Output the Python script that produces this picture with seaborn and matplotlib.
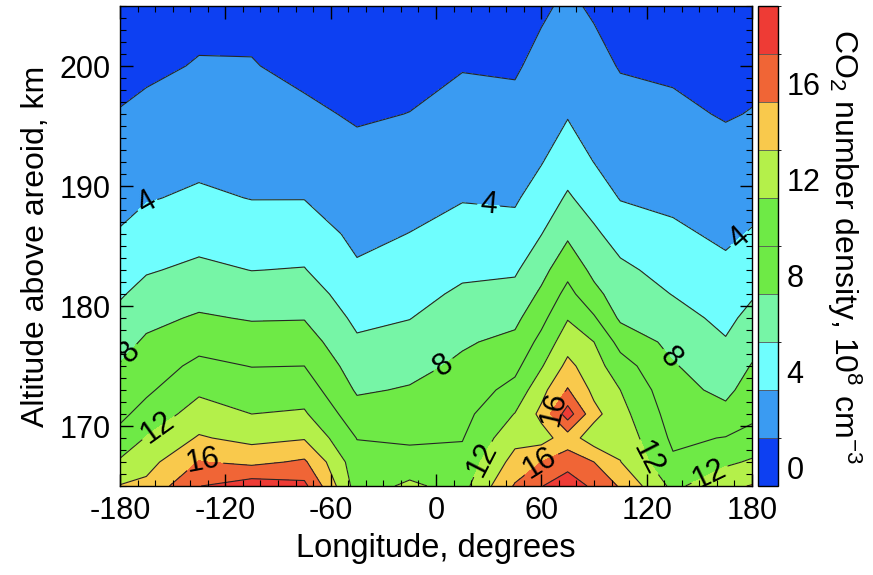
import numpy as np
import matplotlib
matplotlib.use("Agg")
import matplotlib.pyplot as plt
import seaborn as sns
from matplotlib.colors import ListedColormap, BoundaryNorm
from matplotlib.ticker import MultipleLocator

# Grid: longitude (deg) and altitude above the areoid (km)
longitudes = [-180, -165, -135, -105, -75, -45, -15, 15, 45, 60, 75, 90, 105, 135, 165, 180]
altitudes = [165, 167, 169, 171, 173, 175, 177, 179, 181, 183, 186, 189, 192, 196, 200, 205]

# CO2 number density (1e8 cm^-3), one altitude profile per longitude (bottom to top)
lon_m180 = [14.1, 12.25, 10.64, 9.56, 8.84, 8.11, 7.33, 6.55, 5.8, 5.13, 4.13, 3.47, 2.87, 2.06, 1.63, 1.12]
lon_m165 = [14.47, 13.29, 12.12, 10.71, 9.66, 8.97, 8.28, 7.49, 6.64, 5.83, 4.81, 3.87, 3.21, 2.33, 1.73, 1.18]
lon_m135 = [17.95, 16.1, 14.19, 12.88, 11.65, 10.47, 9.33, 8.22, 7.29, 6.4, 5.3, 4.3, 3.6, 2.85, 2.09, 1.58]
lon_m105 = [19.1, 15.5, 13.43, 12.0, 10.97, 9.95, 8.89, 7.86, 6.9, 5.97, 4.93, 3.95, 3.44, 2.75, 2.07, 1.61]
lon_m75 = [18.5, 16.3, 13.84, 12.24, 11.08, 10.0, 8.95, 7.91, 7.0, 6.09, 5.0, 3.95, 3.23, 2.27, 1.65, 1.05]
lon_m45 = [11.1, 10.78, 9.94, 8.8, 7.77, 7.02, 6.26, 5.57, 4.9, 4.23, 3.57, 3.0, 2.43, 1.84, 1.46, 0.99]
lon_m15 = [12.35, 10.95, 9.6, 8.94, 8.16, 7.41, 6.67, 5.95, 5.4, 4.85, 4.03, 3.41, 2.81, 2.02, 1.6, 1.09]
lon_p15 = [11.3, 10.58, 9.9, 9.38, 8.87, 8.36, 7.78, 7.04, 6.3, 5.64, 4.73, 3.89, 3.32, 2.57, 1.91, 1.43]
lon_p45 = [16.2, 14.73, 13.4, 12.07, 10.64, 9.46, 8.49, 7.53, 6.6, 5.75, 4.65, 3.77, 3.19, 2.42, 1.83, 1.35]
lon_p60 = [17.9, 16.0, 13.2, 14.5, 13.36, 11.82, 10.58, 9.43, 8.35, 7.36, 5.96, 4.89, 3.91, 3.17, 2.43, 1.76]
lon_p75 = [19.4, 17.03, 15.0, 19.0, 16.15, 14.54, 13.16, 11.88, 10.63, 9.39, 7.67, 6.24, 5.12, 3.86, 3.15, 2.27]
lon_p90 = [17.5, 16.0, 12.9, 14.6, 13.5, 12.82, 12.0, 10.22, 8.54, 7.49, 6.34, 5.15, 3.97, 3.24, 2.5, 1.79]
lon_p105 = [15.8, 14.05, 13.36, 12.68, 12.0, 10.86, 9.33, 7.68, 7.05, 6.41, 5.19, 3.9, 3.33, 2.57, 1.9, 1.43]
lon_p135 = [11.5, 10.3, 9.63, 9.14, 8.64, 8.15, 7.46, 6.69, 5.94, 5.29, 4.32, 3.62, 3.05, 2.29, 1.76, 1.29]
lon_p165 = [13.6, 11.62, 10.08, 8.54, 7.54, 6.84, 6.14, 5.54, 4.96, 4.38, 3.68, 3.1, 2.53, 1.89, 1.5, 1.03]
lon_p180 = [14.1, 12.25, 10.64, 9.56, 8.84, 8.11, 7.33, 6.55, 5.8, 5.13, 4.13, 3.47, 2.87, 2.06, 1.63, 1.12]

profiles = [lon_m180, lon_m165, lon_m135, lon_m105, lon_m75, lon_m45, lon_m15, lon_p15,
            lon_p45, lon_p60, lon_p75, lon_p90, lon_p105, lon_p135, lon_p165, lon_p180]

# Contour levels and their fill colours
levels = [0, 2, 4, 6, 8, 10, 12, 14, 16, 18, 20]
level_colors = ["#0d40f2", "#3a9bf2", "#6ffefe", "#76f5a6", "#6eea46",
                "#6eea46", "#b4f04a", "#f9c94c", "#f06536", "#ee3b35"]
labelled_levels = [4, 8, 12, 16]
plain_levels = [2, 6, 10, 14, 18]
colorbar_ticks = [0, 4, 8, 12, 16]

# Where the contour labels sit (lon, alt)
label_spots = [(-167, 189.3), (30, 188.4), (171, 185.9),
               (-171, 175.6), (5, 174.9), (133, 175.6),
               (-157, 169.6), (22, 167.6), (125, 167.6), (153, 166.8),
               (-132, 167.6), (62, 172.0), (59, 167.0)]

sns.set_style("ticks")
plt.rcParams["font.family"] = ["Liberation Sans", "DejaVu Sans"]
plt.rcParams["mathtext.default"] = "regular"
plt.rcParams["axes.unicode_minus"] = False
plt.rcParams["text.color"] = "black"
plt.rcParams["axes.labelcolor"] = "black"
plt.rcParams["xtick.color"] = "black"
plt.rcParams["ytick.color"] = "black"

lon = np.array(longitudes, dtype=float)
alt = np.array(altitudes, dtype=float)
density = np.column_stack([np.array(p, dtype=float) for p in profiles])

cmap = ListedColormap(level_colors)
norm = BoundaryNorm(levels, cmap.N)

fig = plt.figure(figsize=(8.73, 5.75), dpi=100)
ax = fig.add_axes([120 / 873, 1 - 486 / 575, 632 / 873, 480 / 575])
cax = fig.add_axes([758 / 873, 1 - 486 / 575, 20 / 873, 480 / 575])

filled = ax.contourf(lon, alt, density, levels=levels, cmap=cmap, norm=norm)
line_style = dict(colors="#262626", linewidths=0.8)
ax.contour(lon, alt, density, levels=plain_levels, **line_style)
labelled = ax.contour(lon, alt, density, levels=labelled_levels, **line_style)
ax.clabel(labelled, manual=label_spots, inline=True,
          fontsize=22, fmt="%d", colors="black", inline_spacing=3)

ax.set_axisbelow(False)
ax.set_xlim(-180, 180)
ax.set_ylim(165, 205)
ax.xaxis.set_major_locator(MultipleLocator(60))
ax.xaxis.set_minor_locator(MultipleLocator(10))
ax.yaxis.set_major_locator(MultipleLocator(10))
ax.yaxis.set_minor_locator(MultipleLocator(1))
ax.tick_params(which="both", direction="in", top=True, right=True,
               bottom=True, left=True, color="black")
ax.tick_params(which="major", length=9, width=1, labelsize=22, pad=7)
ax.tick_params(which="minor", length=4.5, width=0.8)
for side in ax.spines.values():
    side.set_color("black")
    side.set_linewidth(1)
ax.set_xlabel("Longitude, degrees", fontsize=23.5, labelpad=5)
ax.set_ylabel("Altitude above areoid, km", fontsize=23, labelpad=6)

cb = fig.colorbar(filled, cax=cax, ticks=colorbar_ticks, drawedges=True)
cb.outline.set_edgecolor("black")
cb.outline.set_linewidth(1)
cb.dividers.set_color("#555555")
cb.dividers.set_linewidth(0.6)
cax.tick_params(length=0, labelsize=22, pad=6)
plt.setp(cax.get_yticklabels(), va="bottom")
cb.set_label("CO$_2$ number density, 10$^8$ cm$^{-3}$", rotation=270, fontsize=23, labelpad=31)

fig.savefig("out.png", dpi=100)
